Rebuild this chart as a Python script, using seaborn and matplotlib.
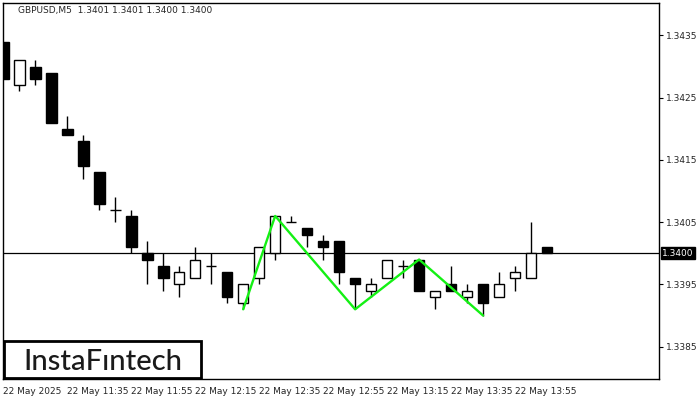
import matplotlib
matplotlib.use("Agg")
import matplotlib.pyplot as plt
from matplotlib.patches import Rectangle
from matplotlib.transforms import blended_transform_factory
import seaborn as sns
import pandas as pd
import numpy as np

# candles, 5 min bars from 22 May 11:15
opens = [1.3434, 1.3427, 1.3430, 1.3429, 1.3420, 1.3418, 1.3413, 1.3407, 1.3406, 1.3400,
         1.3398, 1.3395, 1.3396, 1.3398, 1.3397, 1.3392, 1.3396, 1.3400, 1.3405, 1.3404,
         1.3402, 1.3402, 1.3396, 1.3394, 1.3396, 1.3398, 1.3399, 1.3393, 1.3395, 1.3393,
         1.3395, 1.3393, 1.3396, 1.3396, 1.3401]
highs = [1.3434, 1.3431, 1.3431, 1.3429, 1.3422, 1.3419, 1.3413, 1.3409, 1.3407, 1.3402,
         1.3400, 1.3398, 1.3401, 1.3400, 1.3397, 1.3395, 1.3401, 1.3406, 1.3406, 1.3404,
         1.3403, 1.3402, 1.3396, 1.3396, 1.3399, 1.3399, 1.3399, 1.3394, 1.3398, 1.3395,
         1.3395, 1.3397, 1.3398, 1.3405, 1.3401]
lows = [1.3428, 1.3426, 1.3427, 1.3421, 1.3419, 1.3412, 1.3407, 1.3405, 1.3400, 1.3395,
        1.3394, 1.3393, 1.3396, 1.3395, 1.3392, 1.3391, 1.3395, 1.3399, 1.3405, 1.3401,
        1.3399, 1.3395, 1.3391, 1.3393, 1.3396, 1.3396, 1.3394, 1.3391, 1.3394, 1.3392,
        1.3390, 1.3393, 1.3394, 1.3396, 1.3400]
closes = [1.3428, 1.3431, 1.3428, 1.3421, 1.3419, 1.3414, 1.3408, 1.3407, 1.3401, 1.3399,
          1.3396, 1.3397, 1.3399, 1.3398, 1.3393, 1.3395, 1.3401, 1.3406, 1.3405, 1.3403,
          1.3401, 1.3397, 1.3395, 1.3395, 1.3399, 1.3398, 1.3394, 1.3394, 1.3394, 1.3394,
          1.3392, 1.3395, 1.3397, 1.3400, 1.3400]

# pattern line (bar index, price)
pattern_idx = [15, 17, 22, 26, 30]
pattern_price = [1.3391, 1.3406, 1.3391, 1.3399, 1.3390]

xtick_idx = [0, 4, 8, 12, 16, 20, 24, 28, 32]
xtick_labels = ["22 May 2025", "22 May 11:35", "22 May 11:55", "22 May 12:15", "22 May 12:35",
                "22 May 12:55", "22 May 13:15", "22 May 13:35", "22 May 13:55"]
yticks = [1.3385, 1.3395, 1.3405, 1.3415, 1.3425, 1.3435]
current_price = 1.3400
header = "GBPUSD,M5  1.3401 1.3401 1.3400 1.3400"

sns.set_style("white")
plt.rcParams['font.family'] = ['DejaVu Sans']

df = pd.DataFrame({"o": opens, "h": highs, "l": lows, "c": closes})
df["x"] = np.arange(len(df))
df["bull"] = df["c"] >= df["o"]

W, H = 700, 400
fig = plt.figure(figsize=(7, 4), dpi=100)
ax = fig.add_axes([2.5 / W, 21 / H, 656.5 / W, 376.5 / H])

# wicks
ax.vlines(df["x"], df["l"], df["h"], color="black", lw=1, zorder=2)
# bodies
ax.bar(df["x"], df["c"] - df["o"], bottom=df["o"], width=0.66,
       color=np.where(df["bull"], "white", "black"), edgecolor="black", lw=1, zorder=3)

ax.axhline(current_price, color="black", lw=0.9, zorder=1)

pat = pd.DataFrame({"x": pattern_idx, "y": pattern_price})
sns.lineplot(data=pat, x="x", y="y", ax=ax, color="#14f014", lw=1.7, zorder=4)

ax.set_xlim(-0.05, 41)
ax.set_ylim(1.33798, 1.34403)
ax.set_xlabel("")
ax.set_ylabel("")

ax.set_xticks(xtick_idx)
ax.set_xticklabels(xtick_labels, ha="left", fontsize=6.5)
ax.yaxis.tick_right()
ax.set_yticks(yticks)
ax.set_yticklabels([f"{v:.4f}" for v in yticks], fontsize=6.5)
ax.tick_params(axis="both", direction="out", length=3, width=0.8, color="black", pad=2)
ax.tick_params(axis="x", pad=3)
for s in ax.spines.values():
    s.set_color("black")
    s.set_linewidth(1)

# current price tag
tr = blended_transform_factory(ax.transAxes, ax.transData)
ax.text(1.005, current_price, f"{current_price:.4f}", transform=tr, fontsize=6.5,
        color="white", va="center", ha="left",
        bbox=dict(boxstyle="square,pad=0.15", fc="black", ec="black"))

fig.text(18 / W, 1 - 11 / H, header, fontsize=6.5, va="center", ha="left")

# logo
fig.patches.append(Rectangle((3.5 / W, 1 - 378 / H), 197 / W, 37 / H, transform=fig.transFigure,
                             fc="white", ec="black", lw=2, zorder=5))
fig.text(102.5 / W, 1 - 369.5 / H, "InstaFıntech", fontsize=21, family="Lato",
         fontweight=500, color="#1a1a1a", ha="center", va="baseline", zorder=6)

fig.savefig("out.png", dpi=100)
